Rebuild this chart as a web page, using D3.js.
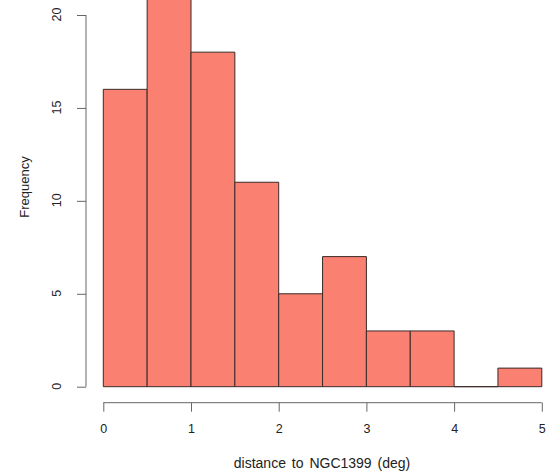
<!DOCTYPE html>
<html>
<head>
<meta charset="utf-8">
<script src="https://cdn.jsdelivr.net/npm/d3@7/dist/d3.min.js"></script>
<style>
  html, body { margin: 0; padding: 0; background: #fff; }
  svg { display: block; }
  text { font-family: "Liberation Sans", Arial, sans-serif; fill: #222; }
</style>
</head>
<body>
<svg id="chart" width="547" height="473"></svg>
<script>
// Histogram bins of angular distance (deg) and their counts
const binStarts = [0, 0.5, 1, 1.5, 2, 2.5, 3, 3.5, 4, 4.5];
const binWidth = 0.5;
const counts = [16, 21, 18, 11, 5, 7, 3, 3, 0, 1];
const xTicks = [0, 1, 2, 3, 4, 5];
const yTicks = [0, 5, 10, 15, 20];

const svg = d3.select("#chart");
const W = 547;

const x = d3.scaleLinear().domain([0, 5]).range([103.3, 541.8]);
const y = d3.scaleLinear().domain([0, 20]).range([386.7, 15]);

// Bars drawn as closed paths so that empty bins still show their baseline
svg.append("clipPath").attr("id", "plotclip")
  .append("rect").attr("x", 0).attr("y", 0).attr("width", W).attr("height", 395);

svg.append("g").attr("clip-path", "url(#plotclip)")
  .selectAll("path").data(binStarts).join("path")
  .attr("d", (d, i) => {
    const p = d3.path();
    p.rect(x(d), y(counts[i]), x(d + binWidth) - x(d), y(0) - y(counts[i]));
    return p.toString();
  })
  .attr("fill", "#fa8072")
  .attr("stroke", "#3a2a28")
  .attr("stroke-width", 1);

// Y axis
const yAxis = svg.append("g").attr("transform", "translate(86,0)");
yAxis.call(d3.axisLeft(y).tickValues(yTicks).tickSize(9).tickFormat(d3.format("d")));
yAxis.select(".domain").attr("stroke", "#666").attr("d", `M0,${y(0)}V${y(20)}`);
yAxis.selectAll(".tick line").attr("stroke", "#666");
yAxis.selectAll(".tick text")
  .attr("font-size", 12.5)
  .attr("x", 0).attr("dy", 0)
  .attr("text-anchor", "middle")
  .attr("transform", "translate(-29,-1) rotate(-90)")
  .attr("dominant-baseline", "central");

// X axis
const xAxis = svg.append("g").attr("transform", "translate(0,402.7)");
xAxis.call(d3.axisBottom(x).tickValues(xTicks).tickSize(9).tickFormat(d3.format("d")));
xAxis.select(".domain").attr("stroke", "#666").attr("d", `M${x(0)},0H${x(5)}`);
xAxis.selectAll(".tick line").attr("stroke", "#666");
xAxis.selectAll(".tick text").attr("font-size", 12.5).attr("y", 21).attr("dy", "0.71em");

// Axis titles
svg.append("text")
  .attr("x", 322).attr("y", 468)
  .attr("text-anchor", "middle")
  .attr("font-size", 14)
  .attr("word-spacing", 2)
  .text("distance to NGC1399 (deg)");

svg.append("text")
  .attr("transform", "translate(29,187) rotate(-90)")
  .attr("text-anchor", "middle")
  .attr("font-size", 13)
  .text("Frequency");
</script>
</body>
</html>
